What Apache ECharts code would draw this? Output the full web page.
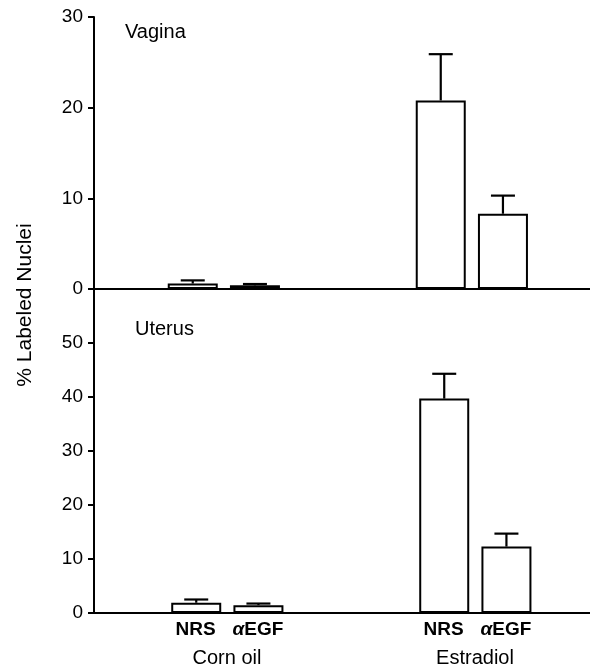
<!DOCTYPE html>
<html><head><meta charset="utf-8">
<script src="https://cdn.jsdelivr.net/npm/echarts@6/dist/echarts.min.js"></script>
<style>html,body{margin:0;padding:0;background:#fff}#c{width:590px;height:671px}</style>
</head><body><div id="c"></div>
<script>
// ---- data ----
const groups = ['Corn oil', 'Estradiol'];
const treatments = ['NRS', 'αEGF'];
const panelNames = ['Vagina', 'Uterus'];
const yAxisTitle = '% Labeled Nuclei';
const vaginaNRS = [0.6, 20.8];
const vaginaNRSErr = [0.35, 5.1];
const vaginaEGF = [0.4, 8.3];
const vaginaEGFErr = [0.15, 2.0];
const uterusNRS = [1.9, 39.7];
const uterusNRSErr = [0.6, 4.6];
const uterusEGF = [1.45, 12.3];
const uterusEGFErr = [0.3, 2.4];
const vaginaTicks = [0, 10, 20, 30];
const uterusTicks = [0, 10, 20, 30, 40, 50];

// ---- style / layout ----
const FONT = "'Liberation Sans', Arial, Helvetica, sans-serif";
const BAR_W = 50, GAP = 0.244;
const SPACER = [9.4, 15];
function slotCenter(panel, slot) {
  const s = SPACER[panel];
  const W = (s + BAR_W) * (1 + GAP) + BAR_W;
  return -W / 2 + s * (1 + GAP) + slot * BAR_W * (1 + GAP) + BAR_W / 2;
}
function errRender(panel) {
  return function (params, api) {
    const cat = api.value(0), v = api.value(1), e = api.value(2), slot = api.value(3);
    const p0 = api.coord([cat, v]);
    const p1 = api.coord([cat, v + e]);
    const x = p0[0] + slotCenter(panel, slot);
    const st = { stroke: '#000', lineWidth: 2.2 };
    return { type: 'group', children: [
      { type: 'line', shape: { x1: x, y1: p0[1], x2: x, y2: p1[1] }, style: st },
      { type: 'line', shape: { x1: x - 12, y1: p1[1], x2: x + 12, y2: p1[1] }, style: st }
    ]};
  };
}
function errData(a, ae, b, be) {
  const out = [];
  groups.forEach((g, i) => { out.push([i, a[i], ae[i], 0]); out.push([i, b[i], be[i], 1]); });
  return out;
}
const barStyle = { color: '#fff', borderColor: '#000', borderWidth: 2 };
function yAxisCfg(gi, ticks) {
  const max = gi === 0 ? ticks[ticks.length - 1] : ticks[ticks.length - 1] + 10;
  return {
    type: 'value', gridIndex: gi, min: 0, max: max, interval: 10,
    axisLine: { show: true, lineStyle: { color: '#000', width: 2 } },
    axisTick: { show: true, length: 6, lineStyle: { color: '#000', width: 2 } },
    axisLabel: { fontSize: 19, color: '#000', fontFamily: FONT, margin: 11,
      formatter: v => ticks.indexOf(v) >= 0 ? String(v) : '' },
    splitLine: { show: false }
  };
}
function xAxisCfg(gi, withLabels) {
  return {
    type: 'category', gridIndex: gi, data: groups,
    axisLine: { show: true, lineStyle: { color: '#000', width: 2 } },
    axisTick: { show: false },
    axisLabel: withLabels ? {
      show: true, margin: 3, padding: [0, 0, 0, 18],
      formatter: v => `{n|${treatments[0]}}{a|${treatments[1].charAt(0)}}{e|${treatments[1].slice(1)}}\n{g|${v}}`,
      rich: {
        n: { width: 62, align: 'center', fontSize: 19, fontWeight: 'bold', fontFamily: FONT, color: '#000', lineHeight: 28 },
        a: { align: 'center', fontSize: 19, fontWeight: 'bold', fontStyle: 'italic', fontFamily: FONT, color: '#000', lineHeight: 28, padding: [0, 0, 0, 6] },
        e: { align: 'center', fontSize: 19, fontWeight: 'bold', fontFamily: FONT, color: '#000', lineHeight: 28, padding: [0, 6, 0, 0] },
        g: { align: 'center', fontSize: 20, fontFamily: FONT, color: '#000', lineHeight: 28 }
      }
    } : { show: false }
  };
}
function panelSeries(gi, a, ae, b, be) {
  return [
    { type: 'bar', xAxisIndex: gi, yAxisIndex: gi, data: groups.map(() => null), barWidth: SPACER[gi], barGap: (GAP * 100) + '%', silent: true, itemStyle: { color: 'transparent' } },
    { type: 'bar', name: treatments[0], xAxisIndex: gi, yAxisIndex: gi, data: a, barWidth: BAR_W, barGap: (GAP * 100) + '%', itemStyle: barStyle },
    { type: 'bar', name: treatments[1], xAxisIndex: gi, yAxisIndex: gi, data: b, barWidth: BAR_W, barGap: (GAP * 100) + '%', itemStyle: barStyle },
    { type: 'custom', xAxisIndex: gi, yAxisIndex: gi, renderItem: errRender(gi), encode: { x: 0, y: 1 }, data: errData(a, ae, b, be), z: 5 }
  ];
}

const chart = echarts.init(document.getElementById('c'), null, { renderer: 'canvas' });
chart.setOption({
  animation: false,
  backgroundColor: '#fff',
  title: [
    { text: panelNames[0], left: 125, top: 22, padding: 0, textStyle: { fontSize: 20, fontWeight: 'normal', fontFamily: FONT, color: '#000' } },
    { text: panelNames[1], left: 135, top: 319, padding: 0, textStyle: { fontSize: 20, fontWeight: 'normal', fontFamily: FONT, color: '#000' } }
  ],
  grid: [
    { left: 94, right: 0, top: 17, height: 272 },
    { left: 94, right: 0, top: 289, height: 324 }
  ],
  xAxis: [xAxisCfg(0, false), xAxisCfg(1, true)],
  yAxis: [yAxisCfg(0, vaginaTicks), yAxisCfg(1, uterusTicks)],
  graphic: [{
    type: 'text', x: 25, y: 305, rotation: Math.PI / 2,
    style: { text: yAxisTitle, fontSize: 21, fontFamily: FONT, fill: '#000', align: 'center', verticalAlign: 'middle' }
  }],
  series: [].concat(
    panelSeries(0, vaginaNRS, vaginaNRSErr, vaginaEGF, vaginaEGFErr),
    panelSeries(1, uterusNRS, uterusNRSErr, uterusEGF, uterusEGFErr)
  )
});
</script>
</body></html>
